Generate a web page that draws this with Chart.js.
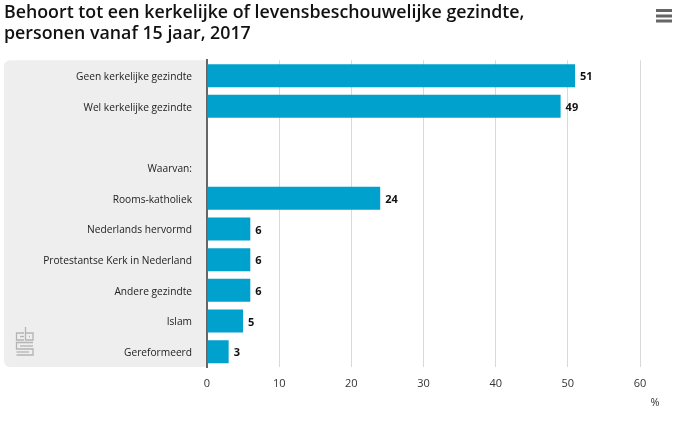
<!DOCTYPE html>
<html lang="nl">
<head>
    <meta charset="UTF-8">
    <title>Kerkelijke gezindte</title>
    <script src="https://cdn.jsdelivr.net/npm/chart.js"></script>
    <style>
        html, body { margin: 0; padding: 0; background: #fff; }
        #wrap { width: 680px; height: 434px; position: relative; }
    </style>
</head>
<body>
<div id="wrap"><canvas id="myChart" width="680" height="434"></canvas></div>
<script>
    const titleLines = ["Behoort tot een kerkelijke of levensbeschouwelijke gezindte,", "personen vanaf 15 jaar, 2017"];
    const categories = ["Geen kerkelijke gezindte", "Wel kerkelijke gezindte", "", "Waarvan:", "Rooms-katholiek", "Nederlands hervormd", "Protestantse Kerk in Nederland", "Andere gezindte", "Islam", "Gereformeerd"];
    const percentages = [51, 49, null, null, 24, 6, 6, 6, 5, 3];
    const unitLabel = "%";
    const fontName = "'Open Sans', sans-serif";

    // grey panel behind the category labels, hamburger icon and cbs logo
    const decorations = {
        id: 'decorations',
        beforeDraw(chart) {
            const c = chart.ctx, a = chart.chartArea;
            c.save();
            c.fillStyle = '#eeeeee';
            c.beginPath();
            c.roundRect(4, a.top, a.left - 4, a.bottom - a.top, [6, 0, 0, 6]);
            c.fill();

            c.fillStyle = '#666666';
            [9, 14.5, 19.5].forEach(y => c.fillRect(656, y, 16, 3));

            c.strokeStyle = '#b4b4b4';
            c.lineWidth = 1.3;
            const logo = [
                [[24, 333], [16.5, 333], [16.5, 340], [24, 340]],
                [[24, 336.5], [20, 336.5]],
                [[25.5, 327], [25.5, 340], [33, 340], [33, 333], [25.5, 333]],
                [[29, 336.5], [30, 336.5]],
                [[33, 342.5], [16.5, 342.5], [16.5, 349], [33, 349], [33, 355], [16.5, 355]],
                [[33, 346], [20, 346]],
                [[16.5, 352], [29, 352]]
            ];
            logo.forEach(path => {
                c.beginPath();
                path.forEach((p, i) => i ? c.lineTo(p[0], p[1]) : c.moveTo(p[0], p[1]));
                c.stroke();
            });
            c.restore();
        },
        afterDatasetsDraw(chart) {
            const c = chart.ctx;
            c.save();
            c.fillStyle = '#111111';
            c.font = "bold 11px " + fontName;
            c.textBaseline = 'middle';
            chart.getDatasetMeta(0).data.forEach((bar, i) => {
                if (percentages[i] === null) return;
                c.fillText(String(percentages[i]), bar.x + 5, bar.y + 1.5);
            });
            c.font = "11px " + fontName;
            c.fillStyle = '#333333';
            c.textAlign = 'center';
            c.fillText(unitLabel, 655, 403);
            c.restore();
        }
    };

    new Chart(document.getElementById('myChart'), {
        type: 'bar',
        data: {
            labels: categories,
            datasets: [{
                data: percentages,
                backgroundColor: '#00a1cd',
                barPercentage: 0.75,
                categoryPercentage: 1
            }]
        },
        plugins: [decorations],
        options: {
            indexAxis: 'y',
            responsive: false,
            animation: false,
            layout: { padding: { left: 4, right: 40, top: 0, bottom: 0 } },
            plugins: {
                legend: { display: false },
                tooltip: { enabled: false },
                title: {
                    display: true,
                    text: titleLines,
                    align: 'start',
                    color: '#111111',
                    font: { family: fontName, size: 17.8, weight: '600', lineHeight: 1.16 },
                    padding: { top: 2.5, bottom: 16.5 }
                }
            },
            scales: {
                x: {
                    min: 0,
                    max: 60,
                    ticks: { stepSize: 10, color: '#333333', font: { family: fontName, size: 11 }, padding: 10 },
                    grid: { color: '#d9d9d9', drawTicks: false },
                    border: { display: false },
                    afterFit(scale) { scale.height = 67; }
                },
                y: {
                    ticks: { color: '#222222', font: { family: fontName, size: 10.2 }, padding: 15, autoSkip: false, labelOffset: 1.5 },
                    grid: { display: false, drawTicks: false },
                    border: { color: '#666666', width: 2 },
                    afterFit(scale) { scale.width = 203; }
                }
            }
        }
    });
</script>
</body>
</html>
